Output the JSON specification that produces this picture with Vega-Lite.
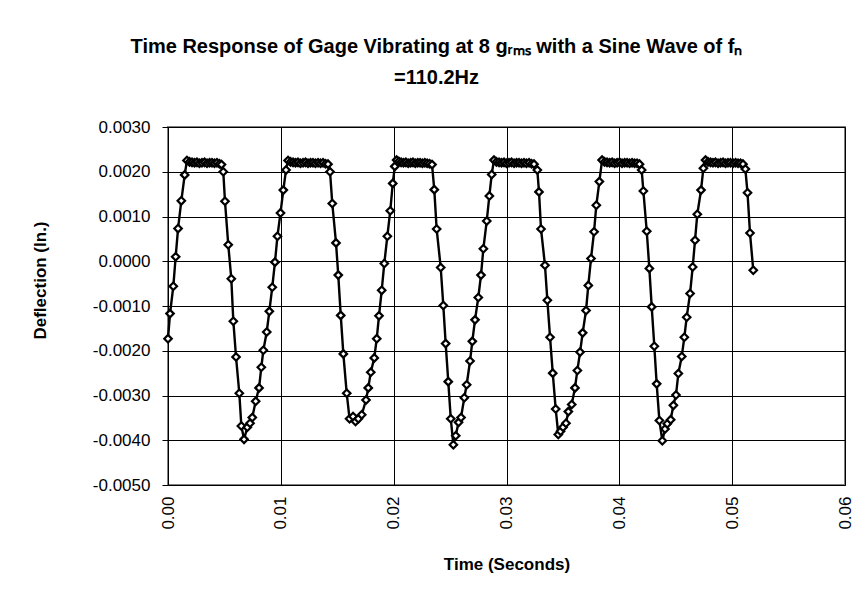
{
  "$schema": "https://vega.github.io/schema/vega-lite/v6.json",
  "autosize": "none",
  "width": 677,
  "height": 358,
  "padding": {"left": 168, "top": 127, "right": 23, "bottom": 114},
  "background": "white",
  "title": {
    "text": ["Time Response of Gage Vibrating at 8 gᵣₘₛ with a Sine Wave of fₙ", "=110.2Hz"],
    "font": "Liberation Sans",
    "fontSize": 20,
    "fontWeight": "bold",
    "color": "black",
    "anchor": "middle",
    "dx": -70,
    "offset": 30,
    "lineHeight": 31
  },
  "data": {
    "values": [
      {"t": 0.00000, "d": -0.00173}, {"t": 0.00018, "d": -0.00117}, {"t": 0.00047, "d": -0.00056}, {"t": 0.00068, "d": 0.00010},
      {"t": 0.00089, "d": 0.00073}, {"t": 0.00118, "d": 0.00135}, {"t": 0.00148, "d": 0.00193},
      {"t": 0.00168, "d": 0.00225}, {"t": 0.00191, "d": 0.00222}, {"t": 0.00213, "d": 0.00221}, {"t": 0.00235, "d": 0.00220},
      {"t": 0.00257, "d": 0.00221}, {"t": 0.00279, "d": 0.00219}, {"t": 0.00301, "d": 0.00220}, {"t": 0.00324, "d": 0.00221},
      {"t": 0.00346, "d": 0.00219}, {"t": 0.00368, "d": 0.00220}, {"t": 0.00390, "d": 0.00220}, {"t": 0.00412, "d": 0.00219},
      {"t": 0.00434, "d": 0.00220}, {"t": 0.00456, "d": 0.00218}, {"t": 0.00474, "d": 0.00216},
      {"t": 0.00490, "d": 0.00200}, {"t": 0.00505, "d": 0.00134}, {"t": 0.00534, "d": 0.00037}, {"t": 0.00561, "d": -0.00039},
      {"t": 0.00579, "d": -0.00134}, {"t": 0.00603, "d": -0.00214}, {"t": 0.00632, "d": -0.00295}, {"t": 0.00650, "d": -0.00368},
      {"t": 0.00674, "d": -0.00398}, {"t": 0.00703, "d": -0.00371}, {"t": 0.00727, "d": -0.00362}, {"t": 0.00747, "d": -0.00349},
      {"t": 0.00777, "d": -0.00313}, {"t": 0.00807, "d": -0.00283}, {"t": 0.00827, "d": -0.00237}, {"t": 0.00845, "d": -0.00199},
      {"t": 0.00875, "d": -0.00158}, {"t": 0.00898, "d": -0.00112}, {"t": 0.00924, "d": -0.00058}, {"t": 0.00948, "d": -0.00002},
      {"t": 0.00970, "d": 0.00056}, {"t": 0.00997, "d": 0.00108}, {"t": 0.01022, "d": 0.00159}, {"t": 0.01046, "d": 0.00204},
      {"t": 0.01064, "d": 0.00225}, {"t": 0.01086, "d": 0.00222}, {"t": 0.01108, "d": 0.00221}, {"t": 0.01130, "d": 0.00220},
      {"t": 0.01152, "d": 0.00221}, {"t": 0.01174, "d": 0.00219}, {"t": 0.01197, "d": 0.00220}, {"t": 0.01219, "d": 0.00221},
      {"t": 0.01241, "d": 0.00219}, {"t": 0.01263, "d": 0.00220}, {"t": 0.01285, "d": 0.00220}, {"t": 0.01307, "d": 0.00219},
      {"t": 0.01330, "d": 0.00220}, {"t": 0.01352, "d": 0.00219}, {"t": 0.01374, "d": 0.00220}, {"t": 0.01396, "d": 0.00218},
      {"t": 0.01418, "d": 0.00217},
      {"t": 0.01436, "d": 0.00200}, {"t": 0.01456, "d": 0.00129}, {"t": 0.01489, "d": 0.00041}, {"t": 0.01509, "d": -0.00031},
      {"t": 0.01531, "d": -0.00121}, {"t": 0.01554, "d": -0.00207}, {"t": 0.01584, "d": -0.00295}, {"t": 0.01609, "d": -0.00352},
      {"t": 0.01640, "d": -0.00347}, {"t": 0.01662, "d": -0.00358}, {"t": 0.01687, "d": -0.00352}, {"t": 0.01717, "d": -0.00343},
      {"t": 0.01755, "d": -0.00310}, {"t": 0.01775, "d": -0.00283}, {"t": 0.01797, "d": -0.00248}, {"t": 0.01828, "d": -0.00216},
      {"t": 0.01850, "d": -0.00173}, {"t": 0.01870, "d": -0.00122}, {"t": 0.01894, "d": -0.00065}, {"t": 0.01917, "d": -0.00005},
      {"t": 0.01944, "d": 0.00056}, {"t": 0.01970, "d": 0.00113}, {"t": 0.01992, "d": 0.00174}, {"t": 0.02010, "d": 0.00212},
      {"t": 0.02026, "d": 0.00226}, {"t": 0.02046, "d": 0.00223}, {"t": 0.02066, "d": 0.00221}, {"t": 0.02087, "d": 0.00220},
      {"t": 0.02108, "d": 0.00221}, {"t": 0.02129, "d": 0.00219}, {"t": 0.02150, "d": 0.00220}, {"t": 0.02171, "d": 0.00221},
      {"t": 0.02192, "d": 0.00219}, {"t": 0.02213, "d": 0.00220}, {"t": 0.02234, "d": 0.00220}, {"t": 0.02255, "d": 0.00219},
      {"t": 0.02276, "d": 0.00220}, {"t": 0.02297, "d": 0.00219}, {"t": 0.02318, "d": 0.00218}, {"t": 0.02340, "d": 0.00216},
      {"t": 0.02360, "d": 0.00160}, {"t": 0.02381, "d": 0.00072}, {"t": 0.02417, "d": -0.00014}, {"t": 0.02440, "d": -0.00099},
      {"t": 0.02461, "d": -0.00184}, {"t": 0.02484, "d": -0.00269}, {"t": 0.02506, "d": -0.00352}, {"t": 0.02529, "d": -0.00410},
      {"t": 0.02550, "d": -0.00390}, {"t": 0.02575, "d": -0.00360}, {"t": 0.02597, "d": -0.00349}, {"t": 0.02626, "d": -0.00305},
      {"t": 0.02647, "d": -0.00276}, {"t": 0.02677, "d": -0.00223}, {"t": 0.02697, "d": -0.00179}, {"t": 0.02721, "d": -0.00131},
      {"t": 0.02750, "d": -0.00081}, {"t": 0.02774, "d": -0.00031}, {"t": 0.02795, "d": 0.00028}, {"t": 0.02825, "d": 0.00090},
      {"t": 0.02848, "d": 0.00146}, {"t": 0.02869, "d": 0.00194},
      {"t": 0.02889, "d": 0.00226}, {"t": 0.02911, "d": 0.00222}, {"t": 0.02934, "d": 0.00221}, {"t": 0.02956, "d": 0.00220},
      {"t": 0.02978, "d": 0.00221}, {"t": 0.03000, "d": 0.00219}, {"t": 0.03022, "d": 0.00220}, {"t": 0.03044, "d": 0.00221},
      {"t": 0.03067, "d": 0.00219}, {"t": 0.03089, "d": 0.00220}, {"t": 0.03111, "d": 0.00220}, {"t": 0.03133, "d": 0.00219},
      {"t": 0.03155, "d": 0.00220}, {"t": 0.03177, "d": 0.00219}, {"t": 0.03200, "d": 0.00220}, {"t": 0.03222, "d": 0.00218},
      {"t": 0.03244, "d": 0.00217},
      {"t": 0.03273, "d": 0.00204}, {"t": 0.03288, "d": 0.00155}, {"t": 0.03306, "d": 0.00072}, {"t": 0.03341, "d": -0.00009},
      {"t": 0.03362, "d": -0.00087}, {"t": 0.03386, "d": -0.00170}, {"t": 0.03410, "d": -0.00250}, {"t": 0.03436, "d": -0.00330},
      {"t": 0.03459, "d": -0.00387}, {"t": 0.03479, "d": -0.00380}, {"t": 0.03501, "d": -0.00371}, {"t": 0.03527, "d": -0.00362},
      {"t": 0.03548, "d": -0.00336}, {"t": 0.03578, "d": -0.00320}, {"t": 0.03607, "d": -0.00283}, {"t": 0.03628, "d": -0.00244},
      {"t": 0.03652, "d": -0.00203}, {"t": 0.03675, "d": -0.00160}, {"t": 0.03705, "d": -0.00110}, {"t": 0.03725, "d": -0.00054},
      {"t": 0.03749, "d": 0.00006}, {"t": 0.03776, "d": 0.00066}, {"t": 0.03796, "d": 0.00125}, {"t": 0.03823, "d": 0.00178},
      {"t": 0.03847, "d": 0.00226}, {"t": 0.03869, "d": 0.00222}, {"t": 0.03891, "d": 0.00221}, {"t": 0.03914, "d": 0.00220},
      {"t": 0.03936, "d": 0.00221}, {"t": 0.03958, "d": 0.00219}, {"t": 0.03980, "d": 0.00220}, {"t": 0.04002, "d": 0.00221},
      {"t": 0.04024, "d": 0.00219}, {"t": 0.04047, "d": 0.00220}, {"t": 0.04069, "d": 0.00220}, {"t": 0.04091, "d": 0.00219},
      {"t": 0.04113, "d": 0.00220}, {"t": 0.04135, "d": 0.00219}, {"t": 0.04157, "d": 0.00219}, {"t": 0.04179, "d": 0.00217},
      {"t": 0.04198, "d": 0.00204}, {"t": 0.04213, "d": 0.00157}, {"t": 0.04243, "d": 0.00067}, {"t": 0.04266, "d": -0.00016},
      {"t": 0.04287, "d": -0.00102}, {"t": 0.04310, "d": -0.00190}, {"t": 0.04331, "d": -0.00274}, {"t": 0.04355, "d": -0.00356},
      {"t": 0.04381, "d": -0.00401}, {"t": 0.04405, "d": -0.00375}, {"t": 0.04425, "d": -0.00363}, {"t": 0.04455, "d": -0.00354},
      {"t": 0.04479, "d": -0.00322}, {"t": 0.04502, "d": -0.00299}, {"t": 0.04523, "d": -0.00251}, {"t": 0.04553, "d": -0.00213},
      {"t": 0.04576, "d": -0.00170}, {"t": 0.04597, "d": -0.00125}, {"t": 0.04627, "d": -0.00072}, {"t": 0.04650, "d": -0.00013},
      {"t": 0.04671, "d": 0.00047}, {"t": 0.04691, "d": 0.00105}, {"t": 0.04724, "d": 0.00159}, {"t": 0.04745, "d": 0.00208},
      {"t": 0.04764, "d": 0.00226}, {"t": 0.04786, "d": 0.00222}, {"t": 0.04808, "d": 0.00221}, {"t": 0.04830, "d": 0.00220},
      {"t": 0.04852, "d": 0.00221}, {"t": 0.04875, "d": 0.00219}, {"t": 0.04897, "d": 0.00220}, {"t": 0.04919, "d": 0.00221},
      {"t": 0.04941, "d": 0.00219}, {"t": 0.04963, "d": 0.00220}, {"t": 0.04985, "d": 0.00220}, {"t": 0.05008, "d": 0.00219},
      {"t": 0.05030, "d": 0.00220}, {"t": 0.05052, "d": 0.00219}, {"t": 0.05074, "d": 0.00219}, {"t": 0.05096, "d": 0.00217},
      {"t": 0.05117, "d": 0.00206}, {"t": 0.05136, "d": 0.00153}, {"t": 0.05158, "d": 0.00063}, {"t": 0.05187, "d": -0.00020}
    ]
  },
  "encoding": {
    "x": {
      "field": "t",
      "type": "quantitative",
      "scale": {"domain": [0, 0.06], "nice": false, "zero": false},
      "axis": {
        "title": "Time (Seconds)",
        "values": [0, 0.01, 0.02, 0.03, 0.04, 0.05, 0.06],
        "format": ".2f",
        "labelAngle": 270,
        "labelAlign": "right",
        "labelBaseline": "middle",
        "labelPadding": 11,
        "labelFont": "Liberation Sans",
        "labelFontSize": 17,
        "labelColor": "black",
        "ticks": false,
        "domain": false,
        "grid": true,
        "gridColor": "black",
        "gridWidth": 1,
        "gridOpacity": 1,
        "titleFont": "Liberation Sans",
        "titleFontSize": 17,
        "titleFontWeight": "bold",
        "titleColor": "black",
        "titlePadding": 27
      }
    },
    "y": {
      "field": "d",
      "type": "quantitative",
      "scale": {"domain": [-0.005, 0.003], "nice": false, "zero": false},
      "axis": {
        "title": "Deflection (In.)",
        "values": [-0.005, -0.004, -0.003, -0.002, -0.001, 0, 0.001, 0.002, 0.003],
        "labelExpr": "replace(format(datum.value, '.4f'), '−', '-')",
        "labelFont": "Liberation Sans",
        "labelFontSize": 17,
        "labelColor": "black",
        "labelPadding": 12,
        "ticks": true,
        "tickSize": 6,
        "tickColor": "black",
        "domain": false,
        "grid": true,
        "gridColor": "black",
        "gridWidth": 1,
        "gridOpacity": 1,
        "titleFont": "Liberation Sans",
        "titleFontSize": 17,
        "titleFontWeight": "bold",
        "titleColor": "black",
        "titleAngle": 270,
        "titleAlign": "center",
        "titleBaseline": "middle",
        "titleX": -128,
        "titleY": 153
      }
    }
  },
  "layer": [
    {"mark": {"type": "line", "color": "black", "strokeWidth": 2.4}},
    {"mark": {"type": "point", "shape": "diamond", "size": 56, "filled": true, "fill": "white", "stroke": "black", "strokeWidth": 2.2, "opacity": 1}}
  ],
  "config": {
    "view": {"stroke": "#808080", "strokeWidth": 2}
  }
}
